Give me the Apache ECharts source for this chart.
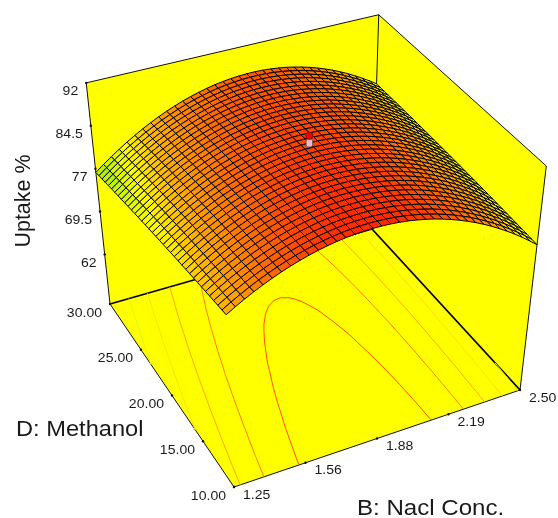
<!DOCTYPE html>
<html><head><meta charset="utf-8">
<style>html,body{margin:0;padding:0;background:#fff}#c{width:558px;height:518px}</style>
<script src="https://cdn.jsdelivr.net/npm/echarts@6/dist/echarts.min.js"></script>
</head><body><div id="c"></div>
<script>
// ---- data ----
const naclTicks = [1.25, 1.56, 1.88, 2.19, 2.50];
const naclTickLabels = ['1.25', '1.56', '1.88', '2.19', '2.50'];
const methanolTicks = [10, 15, 20, 25, 30];
const methanolTickLabels = ['10.00', '15.00', '20.00', '25.00', '30.00'];
const uptakeTicks = [62, 69.5, 77, 84.5, 92];
const uptakeTickLabels = ['62', '69.5', '77', '84.5', '92'];
const contourLevels = [88.05, 85.7, 83.6, 81.5, 79.4];
const designPointNacl = 1.875;
const designPointMethanol = 20;
const designPointUptake = 90;
// rows: methanol 10 -> 30, columns: NaCl 1.25 -> 2.50
const uptakeRows = [
[82.99,83.82,84.61,85.34,86.01,86.63,87.20,87.71,88.17,88.58,88.93,89.22,89.47,89.66,89.79,89.87,89.90,89.87,89.79,89.66,89.47,89.22,88.93,88.58,88.17,87.71,87.20,86.63,86.01,85.34,84.61,83.82,82.99,82.10,81.15,80.15,79.10],
[82.85,83.69,84.48,85.22,85.90,86.52,87.10,87.61,88.08,88.49,88.85,89.15,89.40,89.59,89.73,89.82,89.85,89.83,89.75,89.62,89.44,89.20,88.91,88.56,88.16,87.71,87.20,86.64,86.03,85.36,84.63,83.85,83.02,82.14,81.20,80.20,79.16],
[82.71,83.56,84.35,85.09,85.78,86.41,86.99,87.51,87.98,88.40,88.76,89.07,89.32,89.52,89.67,89.76,89.80,89.78,89.71,89.59,89.41,89.18,88.89,88.55,88.16,87.71,87.21,86.65,86.04,85.38,84.66,83.88,83.06,82.18,81.24,80.25,79.21],
[82.57,83.43,84.23,84.97,85.66,86.30,86.88,87.41,87.89,88.31,88.68,88.99,89.25,89.46,89.61,89.70,89.75,89.74,89.67,89.55,89.38,89.15,88.87,88.54,88.15,87.71,87.21,86.66,86.05,85.39,84.68,83.91,83.09,82.22,81.29,80.31,79.27],
[82.44,83.30,84.10,84.85,85.55,86.19,86.78,87.31,87.79,88.22,88.59,88.91,89.18,89.39,89.54,89.65,89.70,89.69,89.63,89.52,89.35,89.13,88.85,88.52,88.14,87.70,87.21,86.67,86.07,85.41,84.71,83.94,83.13,82.26,81.33,80.36,79.33],
[82.29,83.15,83.96,84.72,85.42,86.07,86.66,87.20,87.69,88.12,88.50,88.82,89.09,89.31,89.47,89.58,89.63,89.63,89.58,89.47,89.31,89.09,88.82,88.50,88.12,87.69,87.20,86.66,86.07,85.42,84.72,83.96,83.15,82.29,81.37,80.40,79.37],
[82.15,83.02,83.83,84.60,85.30,85.96,86.56,87.10,87.59,88.03,88.41,88.74,89.02,89.24,89.41,89.52,89.58,89.59,89.54,89.43,89.28,89.07,88.80,88.48,88.11,87.68,87.20,86.67,86.08,85.44,84.74,83.99,83.19,82.33,81.41,80.45,79.43],
[82.00,82.87,83.69,84.46,85.17,85.83,86.44,86.99,87.49,87.93,88.32,88.65,88.93,89.16,89.33,89.45,89.52,89.53,89.48,89.39,89.24,89.03,88.77,88.46,88.09,87.67,87.19,86.66,86.08,85.44,84.75,84.01,83.21,82.35,81.45,80.49,79.47],
[81.85,82.73,83.55,84.33,85.05,85.71,86.32,86.88,87.38,87.83,88.22,88.56,88.85,89.08,89.26,89.38,89.45,89.47,89.43,89.34,89.19,88.99,88.74,88.43,88.07,87.65,87.18,86.66,86.08,85.45,84.76,84.02,83.23,82.38,81.48,80.52,79.51],
[81.70,82.58,83.41,84.19,84.92,85.59,86.20,86.76,87.27,87.72,88.12,88.47,88.76,89.00,89.18,89.31,89.39,89.41,89.38,89.29,89.15,88.96,88.71,88.41,88.05,87.64,87.17,86.66,86.08,85.46,84.78,84.04,83.25,82.41,81.51,80.56,79.56],
[81.55,82.44,83.27,84.06,84.79,85.46,86.08,86.65,87.16,87.62,88.03,88.38,88.67,88.92,89.11,89.24,89.32,89.35,89.32,89.24,89.11,88.92,88.67,88.38,88.03,87.62,87.16,86.65,86.08,85.46,84.79,84.06,83.27,82.44,81.55,80.60,79.60],
[81.39,82.29,83.13,83.92,84.66,85.34,85.96,86.54,87.05,87.52,87.93,88.29,88.59,88.84,89.03,89.17,89.26,89.29,89.27,89.19,89.06,88.88,88.64,88.35,88.00,87.60,87.15,86.64,86.08,85.47,84.80,84.07,83.29,82.46,81.58,80.64,79.64],
[81.24,82.14,82.99,83.78,84.52,85.21,85.84,86.42,86.94,87.41,87.83,88.19,88.50,88.75,88.95,89.10,89.19,89.23,89.21,89.14,89.02,88.84,88.61,88.32,87.98,87.59,87.14,86.64,86.08,85.47,84.81,84.09,83.31,82.49,81.61,80.67,79.68],
[81.08,81.98,82.84,83.64,84.38,85.07,85.71,86.29,86.82,87.30,87.72,88.09,88.40,88.66,88.87,89.02,89.11,89.16,89.15,89.08,88.96,88.79,88.56,88.28,87.95,87.56,87.12,86.62,86.07,85.46,84.80,84.09,83.32,82.50,81.63,80.70,79.72],
[80.92,81.84,82.70,83.50,84.25,84.95,85.59,86.18,86.71,87.19,87.62,87.99,88.31,88.58,88.79,88.94,89.05,89.10,89.09,89.03,88.92,88.75,88.53,88.25,87.92,87.54,87.10,86.61,86.07,85.47,84.81,84.11,83.34,82.53,81.66,80.73,79.76],
[80.76,81.68,82.54,83.35,84.11,84.81,85.46,86.05,86.59,87.08,87.51,87.89,88.21,88.48,88.70,88.86,88.97,89.02,89.02,88.97,88.86,88.70,88.48,88.21,87.89,87.51,87.08,86.59,86.05,85.46,84.81,84.11,83.35,82.54,81.68,80.76,79.79],
[80.59,81.52,82.39,83.20,83.97,84.67,85.33,85.93,86.47,86.96,87.40,87.78,88.11,88.39,88.61,88.78,88.89,88.95,88.96,88.91,88.80,88.65,88.44,88.17,87.85,87.48,87.05,86.57,86.04,85.45,84.81,84.11,83.36,82.56,81.70,80.78,79.82],
[80.44,81.37,82.24,83.06,83.83,84.54,85.20,85.81,86.36,86.86,87.30,87.69,88.02,88.30,88.53,88.70,88.82,88.89,88.90,88.85,88.76,88.61,88.40,88.14,87.83,87.46,87.04,86.56,86.03,85.45,84.81,84.12,83.38,82.58,81.72,80.82,79.86],
[80.27,81.21,82.09,82.91,83.69,84.41,85.07,85.68,86.24,86.74,87.19,87.58,87.92,88.21,88.44,88.62,88.74,88.81,88.83,88.79,88.70,88.55,88.35,88.10,87.79,87.43,87.01,86.54,86.02,85.44,84.81,84.12,83.38,82.59,81.74,80.84,79.88],
[80.10,81.04,81.92,82.75,83.53,84.26,84.93,85.54,86.10,86.61,87.06,87.46,87.81,88.10,88.34,88.52,88.65,88.73,88.75,88.72,88.63,88.49,88.30,88.05,87.75,87.39,86.98,86.51,86.00,85.42,84.80,84.12,83.38,82.59,81.75,80.85,79.90],
[79.93,80.88,81.77,82.60,83.39,84.12,84.79,85.41,85.98,86.49,86.95,87.36,87.71,88.00,88.25,88.44,88.57,88.65,88.68,88.65,88.57,88.44,88.25,88.00,87.71,87.36,86.95,86.49,85.98,85.41,84.79,84.12,83.39,82.60,81.77,80.88,79.93],
[79.76,80.71,81.61,82.45,83.24,83.98,84.66,85.28,85.86,86.37,86.84,87.25,87.61,87.91,88.16,88.35,88.49,88.58,88.61,88.59,88.51,88.38,88.20,87.96,87.67,87.32,86.92,86.47,85.96,85.40,84.79,84.12,83.39,82.61,81.78,80.90,79.96],
[79.58,80.54,81.44,82.29,83.08,83.82,84.51,85.14,85.72,86.24,86.71,87.13,87.49,87.80,88.05,88.25,88.40,88.49,88.53,88.51,88.44,88.32,88.14,87.91,87.62,87.28,86.89,86.44,85.94,85.38,84.77,84.11,83.39,82.61,81.79,80.91,79.97],
[79.42,80.38,81.28,82.14,82.94,83.68,84.37,85.01,85.59,86.12,86.60,87.02,87.39,87.70,87.96,88.17,88.32,88.41,88.46,88.45,88.38,88.26,88.09,87.86,87.58,87.25,86.86,86.42,85.92,85.37,84.76,84.10,83.39,82.62,81.80,80.93,80.00],
[79.24,80.20,81.12,81.98,82.78,83.53,84.23,84.87,85.46,85.99,86.47,86.90,87.27,87.59,87.86,88.07,88.22,88.33,88.38,88.37,88.31,88.20,88.03,87.81,87.53,87.20,86.82,86.38,85.89,85.35,84.75,84.09,83.39,82.62,81.81,80.94,80.01],
[79.06,80.03,80.95,81.81,82.62,83.38,84.08,84.73,85.32,85.86,86.35,86.78,87.16,87.48,87.75,87.97,88.13,88.24,88.29,88.29,88.24,88.13,87.97,87.75,87.48,87.16,86.78,86.35,85.86,85.32,84.73,84.08,83.38,82.62,81.81,80.95,80.03],
[78.88,79.85,80.78,81.65,82.46,83.23,83.93,84.59,85.19,85.73,86.22,86.66,87.04,87.37,87.65,87.87,88.04,88.15,88.21,88.22,88.17,88.06,87.91,87.70,87.43,87.11,86.74,86.31,85.83,85.30,84.71,84.07,83.37,82.62,81.82,80.96,80.04],
[78.70,79.68,80.61,81.48,82.30,83.07,83.78,84.44,85.05,85.60,86.10,86.54,86.93,87.26,87.54,87.77,87.94,88.06,88.13,88.14,88.09,88.00,87.85,87.64,87.38,87.07,86.70,86.28,85.80,85.27,84.69,84.05,83.36,82.62,81.82,80.96,80.06],
[78.50,79.49,80.43,81.31,82.13,82.91,83.63,84.29,84.90,85.46,85.96,86.41,86.80,87.14,87.43,87.66,87.84,87.96,88.03,88.05,88.01,87.92,87.77,87.57,87.32,87.01,86.65,86.23,85.76,85.24,84.66,84.03,83.34,82.60,81.81,80.96,80.06],
[78.32,79.32,80.26,81.14,81.97,82.75,83.48,84.15,84.76,85.32,85.83,86.28,86.68,87.03,87.32,87.56,87.74,87.87,87.95,87.97,87.94,87.85,87.71,87.52,87.27,86.97,86.61,86.20,85.73,85.22,84.64,84.02,83.34,82.60,81.81,80.97,80.07],
[78.14,79.14,80.09,80.98,81.81,82.60,83.33,84.00,84.62,85.19,85.70,86.16,86.57,86.92,87.21,87.46,87.65,87.78,87.86,87.89,87.86,87.78,87.65,87.46,87.21,86.92,86.57,86.16,85.70,85.19,84.62,84.00,83.33,82.60,81.81,80.98,80.09],
[77.95,78.95,79.90,80.80,81.64,82.43,83.17,83.85,84.47,85.05,85.56,86.03,86.44,86.80,87.10,87.35,87.54,87.68,87.77,87.80,87.78,87.70,87.57,87.39,87.15,86.86,86.51,86.11,85.66,85.15,84.59,83.98,83.31,82.58,81.80,80.97,80.09],
[77.75,78.76,79.72,80.62,81.47,82.26,83.00,83.69,84.32,84.90,85.42,85.89,86.31,86.67,86.98,87.23,87.43,87.58,87.67,87.71,87.69,87.62,87.50,87.32,87.09,86.80,86.46,86.07,85.62,85.12,84.56,83.95,83.29,82.57,81.79,80.97,80.09],
[77.56,78.58,79.54,80.44,81.30,82.10,82.84,83.53,84.17,84.75,85.28,85.76,86.18,86.55,86.86,87.12,87.33,87.48,87.57,87.62,87.61,87.54,87.42,87.25,87.02,86.74,86.41,86.02,85.58,85.08,84.53,83.92,83.26,82.55,81.78,80.96,80.09],
[77.37,78.39,79.35,80.27,81.13,81.93,82.68,83.38,84.02,84.61,85.14,85.62,86.05,86.42,86.74,87.01,87.22,87.37,87.48,87.53,87.52,87.46,87.35,87.18,86.96,86.68,86.35,85.97,85.53,85.04,84.50,83.90,83.24,82.54,81.77,80.96,80.09],
[77.17,78.20,79.17,80.09,80.95,81.76,82.52,83.22,83.87,84.46,85.00,85.49,85.92,86.30,86.62,86.89,87.11,87.27,87.38,87.43,87.43,87.38,87.27,87.11,86.89,86.62,86.30,85.92,85.49,85.00,84.46,83.87,83.22,82.52,81.76,80.95,80.09],
[76.98,78.01,78.98,79.91,80.78,81.59,82.36,83.06,83.72,84.32,84.86,85.35,85.79,86.17,86.50,86.78,87.00,87.17,87.28,87.34,87.35,87.30,87.19,87.04,86.83,86.56,86.24,85.87,85.44,84.96,84.43,83.84,83.20,82.50,81.75,80.95,80.09]
];

// ---- camera: perspective projection of the cube on to the page ----
const BMIN = 1.25, BMAX = 2.5, DMIN = 10, DMAX = 30, ZFLOOR = 52.3, ZTOP = 92;
const CAM = {a:324.69,b:-109.30,c:234,l:-37.3, d:-67.98,e:-142.38,f:487,m:-260.6, g:0.0744,h:0.13363,n:-0.12};
function project(b, d, z) {
  const u = (b - BMIN) / (BMAX - BMIN), v = (d - DMIN) / (DMAX - DMIN), w = (z - ZFLOOR) / (ZTOP - ZFLOOR);
  const q = CAM.g * u + CAM.h * v + 1 + CAM.n * w;
  return [(CAM.a * u + CAM.b * v + CAM.c + CAM.l * w) / q, (CAM.d * u + CAM.e * v + CAM.f + CAM.m * w) / q];
}
const N = uptakeRows.length - 1;
const naclAt = i => BMIN + (BMAX - BMIN) * i / N;
const methAt = j => DMIN + (DMAX - DMIN) * j / N;

// ---- colours ----
const colorStops = [[78,'#b4f00a'],[80.5,'#ffff00'],[83,'#ffb400'],[86,'#ff7800'],[88,'#ff5000'],[90,'#ff2500']];
function colorOf(z) {
  if (z <= colorStops[0][0]) return colorStops[0][1];
  for (let k = 1; k < colorStops.length; k++) {
    if (z <= colorStops[k][0]) {
      const t = (z - colorStops[k-1][0]) / (colorStops[k][0] - colorStops[k-1][0]);
      return echarts.color.lerp(t, [colorStops[k-1][1], colorStops[k][1]]);
    }
  }
  return colorStops[colorStops.length-1][1];
}

// ---- surface cells, far to near ----
const cells = [];
for (let j = N - 1; j >= 0; j--) for (let i = N - 1; i >= 0; i--) cells.push([i, j]);

// ---- contours on the floor ----
function contourSegments(level) {
  const segs = [];
  const cross = (i1,j1,i2,j2) => {
    const a = uptakeRows[j1][i1], b = uptakeRows[j2][i2];
    if ((a < level) === (b < level)) return null;
    const t = (level - a) / (b - a);
    return [naclAt(i1 + (i2-i1)*t), methAt(j1 + (j2-j1)*t)];
  };
  for (let j = 0; j < N; j++) for (let i = 0; i < N; i++) {
    const pts = [cross(i,j,i+1,j), cross(i+1,j,i+1,j+1), cross(i,j+1,i+1,j+1), cross(i,j,i,j+1)].filter(Boolean);
    if (pts.length === 2) segs.push(pts);
    else if (pts.length === 4) { segs.push([pts[0],pts[1]]); segs.push([pts[2],pts[3]]); }
  }
  return segs;
}

const chart = echarts.init(document.getElementById('c'), null, {renderer:'canvas'});
const TEXT = '#1a1a1a';
const FONT = '"Liberation Sans", Arial, sans-serif';
const lerpPt = (p, q, t) => [p[0] + (q[0]-p[0])*t, p[1] + (q[1]-p[1])*t];

function tickPoints(ticks, from, to) {
  return ticks.map((_, k) => lerpPt(from, to, k / (ticks.length - 1)));
}
const Acorner = project(BMIN, DMIN, ZFLOOR), Bcorner = project(BMAX, DMIN, ZFLOOR), Ccorner = project(BMIN, DMAX, ZFLOOR);
const zLow = project(BMIN, DMAX, uptakeTicks[0]), zHigh = project(BMIN, DMAX, uptakeTicks[uptakeTicks.length-1]);
const naclPts = tickPoints(naclTicks, Acorner, Bcorner);
const methPts = tickPoints(methanolTicks, Acorner, Ccorner);
const uptakePts = tickPoints(uptakeTicks, zLow, zHigh);

function seg(api, p, q, stroke, width) {
  const a = api.coord(p), b = api.coord(q);
  return {type:'line', shape:{x1:a[0],y1:a[1],x2:b[0],y2:b[1]}, style:{stroke, lineWidth:width}};
}
function poly(api, pts, fill) {
  return {type:'polygon', shape:{points:pts.map(p => api.coord(p))}, style:{fill, stroke:'none'}};
}
function txt(api, p, text, size, align, rotation, stretch) {
  const c = api.coord(p);
  return {type:'text', x:c[0], y:c[1], rotation:rotation||0, scaleX:stretch||1, scaleY:1,
    style:{text, font:size+'px '+FONT, fill:TEXT, align, verticalAlign:'middle'}};
}

const base = {type:'custom', coordinateSystem:'cartesian2d', clip:false, silent:true, animation:false, progressive:0};

const option = {
  animation:false,
  backgroundColor:'#ffffff',
  grid:{left:0,right:0,top:0,bottom:0},
  xAxis:{type:'value',min:0,max:558,show:false},
  yAxis:{type:'value',min:0,max:518,inverse:true,show:false},
  series:[
    Object.assign({}, base, {name:'box', z:1, data:[[0,0]], renderItem:(p, api) => {
      const c = (b,d,z) => project(b,d,z);
      const A0=c(BMIN,DMIN,ZFLOOR),B0=c(BMAX,DMIN,ZFLOOR),C0=c(BMIN,DMAX,ZFLOOR),E0=c(BMAX,DMAX,ZFLOOR);
      const B1=c(BMAX,DMIN,ZTOP),C1=c(BMIN,DMAX,ZTOP),E1=c(BMAX,DMAX,ZTOP);
      return {type:'group', children:[
        poly(api,[A0,B0,E0,C0],'#ffff00'),
        poly(api,[C0,E0,E1,C1],'#ffff00'),
        poly(api,[E0,B0,B1,E1],'#ffff00'),
        seg(api,C0,E0,'#000',1.8), seg(api,E0,B0,'#000',1.8),
        seg(api,C1,E1,'#111',1), seg(api,E1,B1,'#111',1),
        seg(api,E0,E1,'#111',1), seg(api,C0,C1,'#111',1), seg(api,B0,B1,'#111',1),
        seg(api,A0,B0,'#111',1), seg(api,A0,C0,'#111',1)
      ]};
    }}),
    Object.assign({}, base, {name:'contours', z:2, data:contourLevels.map((l,k)=>[k,l]), renderItem:(p, api) => {
      const level = contourLevels[p.dataIndex];
      const col = colorOf(level);
      return {type:'group', children:contourSegments(level).map(s =>
        seg(api, project(s[0][0],s[0][1],ZFLOOR), project(s[1][0],s[1][1],ZFLOOR), col, 1))};
    }}),
    Object.assign({}, base, {name:'surface', z:3, data:cells, renderItem:(p, api) => {
      const i = cells[p.dataIndex][0], j = cells[p.dataIndex][1];
      const zs = [uptakeRows[j][i], uptakeRows[j][i+1], uptakeRows[j+1][i+1], uptakeRows[j+1][i]];
      const pts = [project(naclAt(i),methAt(j),zs[0]), project(naclAt(i+1),methAt(j),zs[1]),
                   project(naclAt(i+1),methAt(j+1),zs[2]), project(naclAt(i),methAt(j+1),zs[3])];
      return {type:'polygon', shape:{points:pts.map(q=>api.coord(q))},
        style:{fill:colorOf((zs[0]+zs[1]+zs[2]+zs[3])/4), stroke:'#000', lineWidth:1}};
    }}),
    Object.assign({}, base, {name:'design point', z:4, data:[[designPointNacl,designPointMethanol]], renderItem:(p, api) => {
      const jm = N/2, im = N/2;
      const top = api.coord(project(designPointNacl, designPointMethanol, designPointUptake));
      const bot = api.coord(project(designPointNacl, designPointMethanol, uptakeRows[jm][im]));
      return {type:'group', children:[
        {type:'rect', shape:{x:bot[0]-3.2,y:bot[1]-4,width:6.4,height:8,r:2}, style:{fill:'#f2b8c0',stroke:'#555',lineWidth:0.8}},
        {type:'circle', shape:{cx:top[0],cy:top[1],r:3.6}, style:{fill:'#ee0000',stroke:'#700',lineWidth:0.8}}
      ]};
    }}),
    Object.assign({}, base, {name:'ticks', z:5, data:[[0,0]], renderItem:(p, api) => {
      const kids = [];
      const dot = q => { const c = api.coord(q); return {type:'circle', shape:{cx:c[0],cy:c[1],r:1.2}, style:{fill:'#111'}}; };
      uptakePts.forEach((q,k) => { kids.push(dot(q)); kids.push(txt(api,[q[0]-8,q[1]+9],uptakeTickLabels[k],13,'right',0,1.08)); });
      methPts.forEach((q,k) => { kids.push(dot(q)); kids.push(txt(api,[q[0]-8,q[1]+9],methanolTickLabels[k],13,'right',0,1.08)); });
      naclPts.forEach((q,k) => { kids.push(dot(q)); kids.push(txt(api,[q[0]+9,q[1]+8],naclTickLabels[k],13,'left',0,1.08)); });
      kids.push(txt(api,[24,201],'Uptake %',21.5,'center',Math.PI/2));
      kids.push(txt(api,[16,430],'D: Methanol',21.5,'left',0,1.1));
      kids.push(txt(api,[357,509],'B: Nacl Conc.',21.5,'left',0,1.12));
      return {type:'group', children:kids};
    }})
  ]
};
chart.setOption(option);
</script></body></html>
